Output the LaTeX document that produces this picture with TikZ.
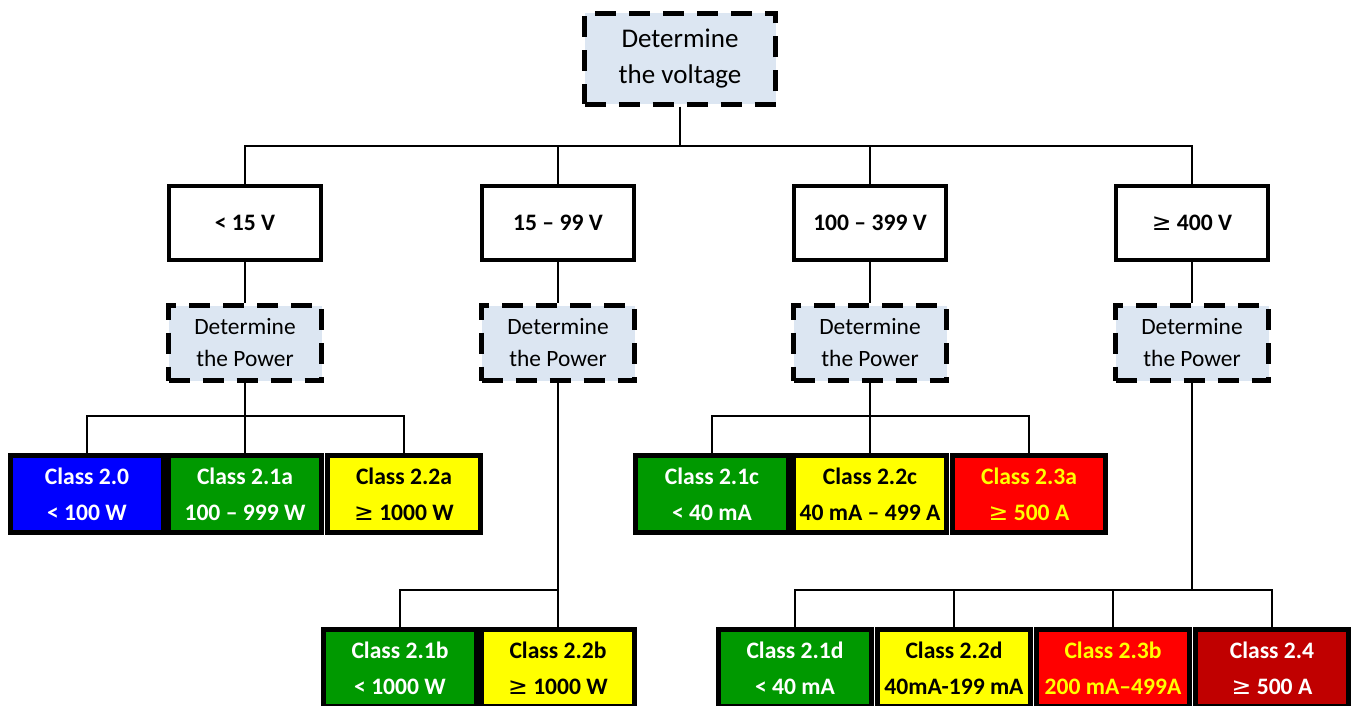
\documentclass[tikz,border=0pt]{standalone}
\usepackage{fontspec}
\setmainfont{Carlito}
\newfontfamily\symfont{DejaVu Sans}
\usepackage{tikz}

\definecolor{askblue}{HTML}{DCE6F2}
\definecolor{clsblue}{HTML}{0000FF}
\definecolor{clsgreen}{HTML}{009900}
\definecolor{clsyellow}{HTML}{FFFF00}
\definecolor{clsred}{HTML}{FF0000}
\definecolor{clsdark}{HTML}{C00000}
\newcommand{\atleast}{{\symfont\mdseries\char"2265}}

\begin{document}
\begin{tikzpicture}[x=0.5pt,y=-0.5pt,line width=1pt,
  askbox/.style={draw,fill=askblue,line width=2.5pt,dash pattern=on 10.5pt off 6.5pt,
    align=center,inner sep=0pt,minimum width=76.5pt,minimum height=37.5pt,
    font=\fontsize{11.7}{16}\selectfont},
  voltbox/.style={draw,fill=white,line width=2.4pt,minimum width=76pt,minimum height=37pt,
    font=\fontsize{11.8}{14}\selectfont\bfseries},
  clsbox/.style={draw,line width=2.5pt,minimum width=76.5pt,minimum height=38.5pt,
    align=center,inner sep=0pt,font=\fontsize{11.8}{18}\selectfont\bfseries}]
\useasboundingbox (0,0) rectangle (1351,706);

% first question
\node[askbox,minimum width=95.5pt,minimum height=45.5pt,
  font=\fontsize{13.5}{18}\selectfont] (volt) at (680,59) {Determine\\the voltage};

% voltage ranges
\node[voltbox] (v1) at (245,223) {< 15 V};
\node[voltbox] (v2) at (558,223) {15 – 99 V};
\node[voltbox] (v3) at (870,223) {100 – 399 V};
\node[voltbox] (v4) at (1192,223) {\atleast\ 400 V};

% second question
\foreach \i/\x in {1/245,2/558,3/870,4/1192}
  \node[askbox] (p\i) at (\x,343) {Determine\\the Power};

% classes, < 15 V
\node[clsbox,fill=clsblue,text=white] (c20) at (87,494) {Class 2.0\\< 100 W};
\node[clsbox,fill=clsgreen,text=white] (c21a) at (245,494) {Class 2.1a\\100 – 999 W};
\node[clsbox,fill=clsyellow] (c22a) at (404,494) {Class 2.2a\\\atleast\ 1000 W};

% classes, 15 - 99 V
\node[clsbox,fill=clsgreen,text=white] (c21b) at (400,668) {Class 2.1b\\< 1000 W};
\node[clsbox,fill=clsyellow] (c22b) at (558,668) {Class 2.2b\\\atleast\ 1000 W};

% classes, 100 - 399 V
\node[clsbox,fill=clsgreen,text=white] (c21c) at (712,494) {Class 2.1c\\< 40 mA};
\node[clsbox,fill=clsyellow] (c22c) at (870,494) {Class 2.2c\\40 mA – 499 A};
\node[clsbox,fill=clsred,text=clsyellow] (c23a) at (1029,494) {Class 2.3a\\\atleast\ 500 A};

% classes, >= 400 V
\node[clsbox,fill=clsgreen,text=white] (c21d) at (795,668) {Class 2.1d\\< 40 mA};
\node[clsbox,fill=clsyellow] (c22d) at (954,668) {Class 2.2d\\40mA-199 mA};
\node[clsbox,fill=clsred,text=clsyellow] (c23b) at (1113,668) {Class 2.3b\\200 mA–499A};
\node[clsbox,fill=clsdark,text=white] (c24) at (1272,668) {Class 2.4\\\atleast\ 500 A};

% connectors
\coordinate (busV) at (0,146);
\coordinate (busA) at (0,416);
\coordinate (busB) at (0,590);
\foreach \i in {1,...,4}{
  \draw (volt.south) -- (volt.south |- busV) -| (v\i.north);
  \draw (v\i.south) -- (p\i.north);
}
\foreach \c in {c20,c21a,c22a}
  \draw (p1.south) -- (p1.south |- busA) -| (\c.north);
\foreach \c in {c21b,c22b}
  \draw (p2.south) -- (p2.south |- busB) -| (\c.north);
\foreach \c in {c21c,c22c,c23a}
  \draw (p3.south) -- (p3.south |- busA) -| (\c.north);
\foreach \c in {c21d,c22d,c23b,c24}
  \draw (p4.south) -- (p4.south |- busB) -| (\c.north);
\end{tikzpicture}
\end{document}
